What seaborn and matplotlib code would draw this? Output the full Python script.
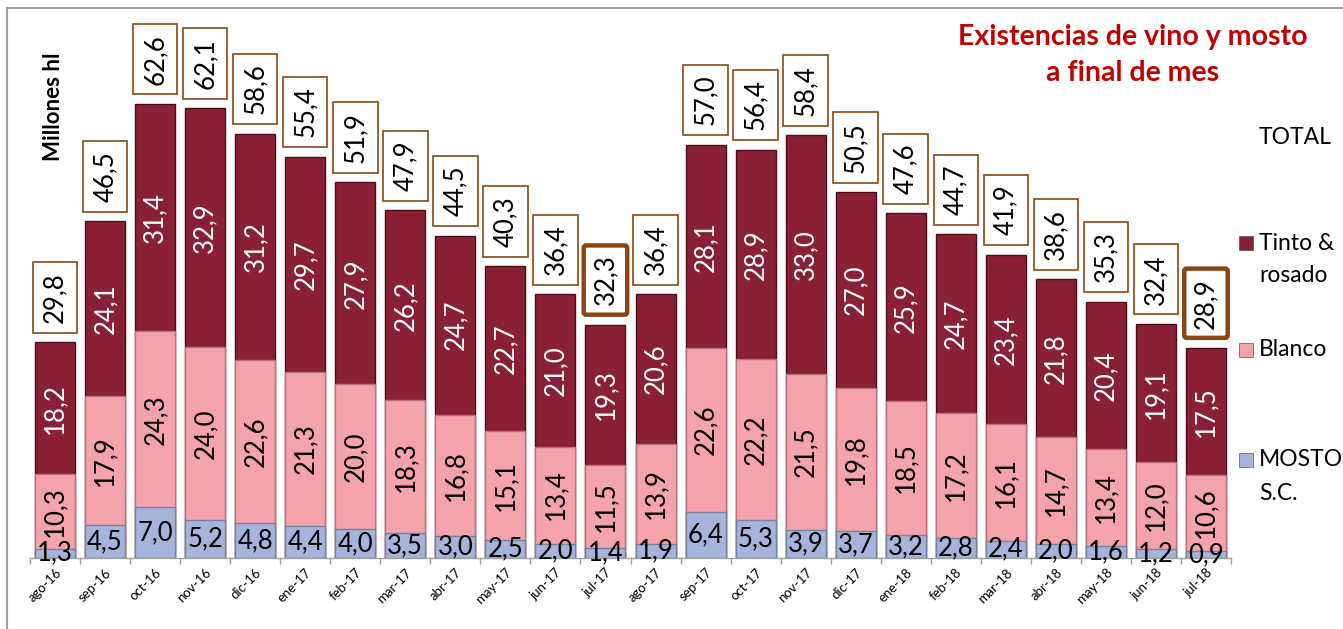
import matplotlib
matplotlib.use("Agg")
import matplotlib.pyplot as plt
import seaborn as sns
import pandas as pd
from matplotlib.patches import Rectangle
from matplotlib.lines import Line2D

months = ["ago-16", "sep-16", "oct-16", "nov-16", "dic-16", "ene-17", "feb-17", "mar-17",
          "abr-17", "may-17", "jun-17", "jul-17", "ago-17", "sep-17", "oct-17", "nov-17",
          "dic-17", "ene-18", "feb-18", "mar-18", "abr-18", "may-18", "jun-18", "jul-18"]
mosto = [1.3, 4.5, 7.0, 5.2, 4.8, 4.4, 4.0, 3.5, 3.0, 2.5, 2.0, 1.4,
         1.9, 6.4, 5.3, 3.9, 3.7, 3.2, 2.8, 2.4, 2.0, 1.6, 1.2, 0.9]
blanco = [10.3, 17.9, 24.3, 24.0, 22.6, 21.3, 20.0, 18.3, 16.8, 15.1, 13.4, 11.5,
          13.9, 22.6, 22.2, 21.5, 19.8, 18.5, 17.2, 16.1, 14.7, 13.4, 12.0, 10.6]
tinto = [18.2, 24.1, 31.4, 32.9, 31.2, 29.7, 27.9, 26.2, 24.7, 22.7, 21.0, 19.3,
         20.6, 28.1, 28.9, 33.0, 27.0, 25.9, 24.7, 23.4, 21.8, 20.4, 19.1, 17.5]
total = [29.8, 46.5, 62.6, 62.1, 58.6, 55.4, 51.9, 47.9, 44.5, 40.3, 36.4, 32.3,
         36.4, 57.0, 56.4, 58.4, 50.5, 47.6, 44.7, 41.9, 38.6, 35.3, 32.4, 28.9]
highlight = ["jul-17", "jul-18"]

df = pd.DataFrame({"mes": months, "mosto": mosto, "blanco": blanco, "tinto": tinto, "total": total})
df["mb"] = df["mosto"] + df["blanco"]
df["mbt"] = df["mb"] + df["tinto"]

C_TINTO = "#8A2036"
C_BLANCO = "#F4A3AC"
C_MOSTO = "#A6B4DC"
BROWN = "#8B4513"

sns.set_theme(style="white")
plt.rcParams["font.family"] = ["Lato", "DejaVu Sans"]

W, H = 1343, 629
fig = plt.figure(figsize=(W / 100, H / 100), dpi=100)
ymax = 70.0
px_per_unit = 7.24
ax_bottom_px = 558
ax_left_px, ax_right_px = 30, 1231
ax_h_px = ymax * px_per_unit
ax = fig.add_axes([ax_left_px / W, (H - ax_bottom_px) / H,
                   (ax_right_px - ax_left_px) / W, ax_h_px / H])

sns.barplot(data=df, x="mes", y="mbt", color=C_TINTO, width=0.8, saturation=1,
            edgecolor="#4e0c1a", linewidth=1.0, ax=ax)
sns.barplot(data=df, x="mes", y="mb", color=C_BLANCO, width=0.8, saturation=1,
            edgecolor="#b8707a", linewidth=1.0, ax=ax)
sns.barplot(data=df, x="mes", y="mosto", color=C_MOSTO, width=0.8, saturation=1,
            edgecolor="#76839f", linewidth=1.0, ax=ax)

ax.set_xlim(-0.5, len(months) - 0.5)
ax.set_ylim(0, ymax)
ax.set_xlabel("")
ax.set_ylabel("")
ax.set_yticks([])
for s in ["top", "right", "left"]:
    ax.spines[s].set_visible(False)
ax.spines["bottom"].set_color("#a0a0a0")
ax.spines["bottom"].set_linewidth(1.0)

# ticks at category boundaries
ax.set_xticks(range(len(months)))
ax.set_xticklabels(months, rotation=45, ha="right", rotation_mode="anchor", fontsize=9.5,
                   color="black")
ax.tick_params(axis="x", which="major", length=0, pad=6)
ax.set_xticks([i - 0.5 for i in range(len(months) + 1)], minor=True)
ax.tick_params(axis="x", which="minor", length=4, color="#a0a0a0", width=1.0, bottom=True)

FS = 18.5
for i, row in df.iterrows():
    ax.text(i, row["mosto"] / 2, f"{row['mosto']:.1f}".replace(".", ","), ha="center", va="center",
            fontsize=FS, color="black", clip_on=False)
    ax.text(i, row["mosto"] + row["blanco"] / 2, f"{row['blanco']:.1f}".replace(".", ","),
            ha="center", va="center", rotation=90, fontsize=FS, color="black")
    ax.text(i, row["mb"] + row["tinto"] / 2, f"{row['tinto']:.1f}".replace(".", ","),
            ha="center", va="center", rotation=90, fontsize=FS, color="white")
    hl = row["mes"] in highlight
    ax.annotate(f"{row['total']:.1f}".replace(".", ","), xy=(i, row["mbt"]), xytext=(0, 14),
                textcoords="offset points", ha="center", va="bottom", rotation=90,
                fontsize=FS, color="black", annotation_clip=False,
                bbox=dict(boxstyle="round,pad=0.36,rounding_size=0.1" if hl else "square,pad=0.38",
                          facecolor="white", edgecolor=BROWN, linewidth=3.2 if hl else 1.2))

# Title
fig.text(1133 / W, 1 - 37 / H, "Existencias de vino y mosto", ha="center", va="center",
         fontsize=20.5, fontweight="bold", color="#C00000")
fig.text(1133 / W, 1 - 73 / H, "a final de mes", ha="center", va="center",
         fontsize=20.5, fontweight="bold", color="#C00000")

# Y label
fig.text(53 / W, 1 - 107 / H, "Millones hl", ha="center", va="center", rotation=90,
         fontsize=16, fontweight="bold", color="black")

# Legend (manual)
LFS = 16.5
fig.text(1259 / W, 1 - 137 / H, "TOTAL", ha="left", va="center", fontsize=LFS, color="black")
legend_items = [("Tinto &", "rosado", C_TINTO, 243),
                ("Blanco", None, C_BLANCO, 350),
                ("MOSTO", "S.C.", C_MOSTO, 460)]
for l1, l2, col, yc in legend_items:
    fig.patches.append(Rectangle((1239 / W, 1 - (yc + 7) / H), 14 / W, 14 / H,
                                 transform=fig.transFigure, facecolor=col,
                                 edgecolor="#555555", linewidth=0.5))
    fig.text(1259 / W, 1 - yc / H, l1, ha="left", va="center", fontsize=LFS, color="black")
    if l2:
        fig.text(1259 / W, 1 - (yc + 33) / H, l2, ha="left", va="center", fontsize=LFS, color="black")

# Frame lines
fig.add_artist(Line2D([7 / W, 1], [1 - 8 / H, 1 - 8 / H], transform=fig.transFigure,
                      color="#a0a0a0", linewidth=1.5))
fig.add_artist(Line2D([7 / W, 7 / W], [0, 1 - 8 / H], transform=fig.transFigure,
                      color="#a0a0a0", linewidth=1.5))

fig.savefig("out.png", dpi=100)
